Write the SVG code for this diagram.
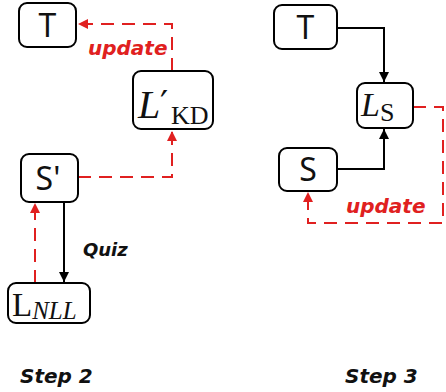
<svg xmlns="http://www.w3.org/2000/svg" width="446" height="392" viewBox="0 0 446 392">
  <style>
    .box { fill: #ffffff; stroke: #000000; stroke-width: 2; }
    .sans { font-family: "Noto Sans", "DejaVu Sans", sans-serif; font-size: 32px; fill: #111111; }
    .math { font-family: "Liberation Serif", "DejaVu Serif", serif; fill: #111111; }
    .it { font-style: italic; }
    .lbl { font-family: "DejaVu Sans", "Liberation Sans", sans-serif; font-weight: bold; font-style: italic; }
    .red-lbl { fill: #e02020; font-size: 20px; }
    .blk-lbl { fill: #111111; }
    .solid { fill: none; stroke: #000000; stroke-width: 2; }
    .dash { fill: none; stroke: #e02020; stroke-width: 2; stroke-dasharray: 13 8; }
  </style>
  <defs>
    <marker id="arrow-black" markerUnits="userSpaceOnUse" markerWidth="10" markerHeight="10" refX="10" refY="5" orient="auto">
      <path d="M0,0 L10,5 L0,10 z" fill="#000000"/>
    </marker>
    <marker id="arrow-red" markerUnits="userSpaceOnUse" markerWidth="10" markerHeight="10" refX="10" refY="5" orient="auto">
      <path d="M0,0 L10,5 L0,10 z" fill="#e02020"/>
    </marker>
  </defs>

  <g id="connectors">
    <!-- Step 2 -->
    <path class="dash" d="M78,177 H172 V131" marker-end="url(#arrow-red)"/>
    <path class="dash" d="M172,71 V24 H78" marker-end="url(#arrow-red)"/>
    <path class="dash" d="M35,283 V203" marker-end="url(#arrow-red)"/>
    <path class="solid" d="M64,202 V282" marker-end="url(#arrow-black)"/>
    <!-- Step 3 -->
    <path class="solid" d="M337,28 H384 V82" marker-end="url(#arrow-black)"/>
    <path class="solid" d="M337,169 H384 V129" marker-end="url(#arrow-black)"/>
    <path class="dash" d="M413,107 H443 V223 H308 V192" marker-end="url(#arrow-red)"/>
  </g>

  <!-- Step 2 nodes -->
  <g id="s2-teacher">
    <rect class="box" x="19" y="3" width="57" height="44" rx="8"/>
    <text class="sans" x="47.5" y="36.5" text-anchor="middle">T</text>
  </g>
  <g id="s2-loss-kd">
    <rect class="box" x="133" y="71" width="80" height="58" rx="8"/>
    <text class="math" x="138" y="118"><tspan class="it" font-size="40">L</tspan><tspan font-family="DejaVu Sans, sans-serif" font-size="36" x="160" y="116">′</tspan><tspan font-size="26" x="171" y="124">KD</tspan></text>
  </g>
  <g id="s2-student">
    <rect class="box" x="21" y="154" width="57" height="48" rx="8"/>
    <text class="sans" x="48" y="190" text-anchor="middle">S'</text>
  </g>
  <g id="s2-loss-nll">
    <rect class="box" x="8" y="283" width="82" height="40" rx="8"/>
    <text class="math" x="12" y="316"><tspan font-size="33">L</tspan><tspan class="it" font-size="25" y="319">NLL</tspan></text>
  </g>
  <text class="lbl red-lbl" x="88" y="55">update</text>
  <text class="lbl blk-lbl" x="83" y="256" font-size="18">Quiz</text>
  <text class="lbl blk-lbl" x="20" y="383" font-size="20">Step 2</text>

  <!-- Step 3 nodes -->
  <g id="s3-teacher">
    <rect class="box" x="274" y="5" width="63" height="44" rx="8"/>
    <text class="sans" x="305.5" y="38.5" text-anchor="middle">T</text>
  </g>
  <g id="s3-loss-s">
    <rect class="box" x="357" y="83" width="56" height="45" rx="8"/>
    <text class="math" x="361" y="116"><tspan class="it" font-size="34">L</tspan><tspan font-size="26" y="121">S</tspan></text>
  </g>
  <g id="s3-student">
    <rect class="box" x="279" y="148" width="58" height="43" rx="8"/>
    <text class="sans" x="308" y="181" text-anchor="middle">S</text>
  </g>
  <text class="lbl red-lbl" x="346" y="213">update</text>
  <text class="lbl blk-lbl" x="345" y="383" font-size="20">Step 3</text>
</svg>
